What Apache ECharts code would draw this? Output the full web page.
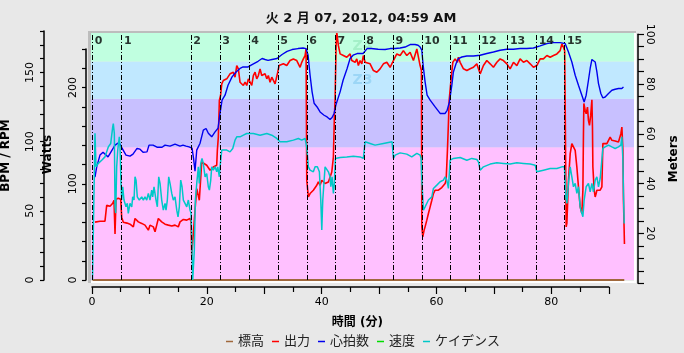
<!DOCTYPE html>
<html>
<head>
<meta charset="utf-8">
<script src="https://cdn.jsdelivr.net/npm/echarts@6/dist/echarts.min.js"></script>
<style>
  html, body { margin: 0; padding: 0; background: #e8e8e8; }
  #chart { width: 684px; height: 353px; }
</style>
</head>
<body>
<div id="chart"></div>
<script>
// ---- data (time in minutes) ----
const titleText = '火 2 月 07, 2012, 04:59 AM';
const legendNames = ['標高', '出力', '心拍数', '速度', 'ケイデンス'];

// lap start times and heart-rate zone limits (BPM)
const lapTimes = [0.05, 5.15, 17.2, 22.25, 27.3, 32.35, 37.4, 42.33, 47.33, 52.4, 57.44, 62.32, 67.37, 72.35, 77.35, 82.28];
const zoneLimits = [0, 96, 131, 158, 180];
const zoneNames = ['Z1', 'Z2', 'Z3', 'Z4'];

// 標高 (m)
const elevation = [[0.1, 0], [92.7, 0]];
// 速度 - no samples in this file
const speed = [];

// 心拍数 (BPM)
const heartRate = [[0.52,74.4],[0.82,81.8],[1.39,90.3],[1.92,92.4],[2.79,89.0],[3.31,92.6],[4.01,97.5],[4.53,98.9],[4.88,98.2],[5.23,95.3],[5.92,90.3],[6.62,89.5],[7.14,91.0],[7.84,95.1],[8.36,94.6],[8.89,92.4],[9.58,92.6],[9.93,97.5],[10.63,97.5],[11.32,96.0],[12.20,96.0],[12.72,97.5],[13.59,96.8],[14.46,98.2],[15.33,96.8],[15.85,97.5],[16.38,96.8],[16.90,96.2],[17.42,95.3],[17.68,88.1],[17.94,78.7],[18.24,93.9],[18.82,98.9],[19.39,108.3],[19.86,109.5],[20.26,106.1],[20.85,103.5],[21.43,107.1],[21.95,109.7],[22.30,120.6],[22.65,130.0],[23.17,133.6],[23.69,140.8],[24.39,146.8],[25.09,150.4],[25.78,152.9],[26.31,154.0],[27.18,154.0],[27.87,155.7],[28.92,158.1],[29.62,160.1],[30.14,159.4],[30.66,158.8],[31.36,159.4],[32.23,160.1],[33.10,163.0],[33.97,165.3],[34.84,166.6],[35.89,167.3],[36.76,167.7],[37.28,167.3],[37.63,162.5],[37.98,148.0],[38.33,136.0],[38.68,127.8],[39.20,125.1],[39.72,121.5],[40.42,119.1],[40.94,117.9],[41.46,116.0],[41.81,117.5],[42.16,120.4],[42.51,127.1],[43.21,136.0],[43.73,144.4],[44.43,152.9],[44.95,160.1],[45.47,162.5],[46.17,163.7],[47.21,163.7],[47.91,167.3],[48.61,167.3],[49.83,166.8],[51.05,166.6],[51.92,167.3],[52.79,167.3],[53.66,167.7],[54.53,168.4],[55.40,170.2],[56.27,170.2],[56.79,169.7],[57.14,168.4],[57.44,166.1],[57.67,155.2],[58.01,143.2],[58.36,133.6],[58.89,130.0],[59.76,125.1],[60.63,120.4],[60.92,119.1],[61.50,120.4],[61.85,122.7],[62.25,128.7],[62.67,140.8],[62.94,150.4],[63.41,156.5],[63.81,160.1],[64.41,161.2],[65.28,161.9],[66.43,161.9],[67.60,162.5],[68.76,163.7],[69.91,164.8],[71.08,166.1],[72.25,166.8],[73.40,166.8],[74.56,167.3],[75.73,167.3],[76.88,167.7],[78.05,169.2],[79.22,170.9],[80.37,171.6],[81.53,171.6],[82.40,170.9],[82.98,164.8],[83.57,157.6],[84.15,148.0],[84.72,140.8],[85.31,133.6],[85.71,128.7],[86.06,133.6],[86.46,144.4],[86.76,152.9],[87.06,159.4],[87.33,160.8],[87.63,157.6],[87.93,150.4],[88.21,142.0],[88.62,134.8],[88.97,131.6],[89.37,132.3],[89.95,134.8],[90.54,137.2],[91.11,137.9],[91.69,138.4],[92.28,138.4],[92.56,139.6]];

// 出力 (W)
const power = [[0.52,60.1],[1.39,61.1],[2.26,61.1],[2.56,77.7],[3.14,76.7],[3.61,79.8],[3.83,82.9],[4.01,47.7],[4.18,83.9],[4.58,85.0],[5.00,83.9],[5.17,65.3],[5.45,60.1],[6.10,59.1],[6.62,58.0],[7.20,55.2],[7.49,63.9],[7.79,63.9],[8.07,60.4],[8.66,58.8],[9.23,57.0],[9.53,55.2],[9.81,51.8],[10.10,57.0],[10.40,58.8],[10.68,55.2],[10.98,50.1],[11.27,57.0],[11.55,63.9],[11.85,62.2],[12.14,60.4],[12.72,58.0],[13.29,57.0],[13.89,56.0],[14.46,57.0],[15.03,55.2],[15.33,60.4],[15.91,62.9],[16.50,62.2],[17.07,63.9],[17.25,60.1],[17.37,24.9],[17.60,23.8],[17.94,72.5],[18.24,95.0],[18.52,93.3],[18.69,82.9],[19.11,122.6],[19.39,124.4],[19.98,119.2],[20.56,114.0],[21.13,117.4],[21.72,119.2],[21.83,134.7],[22.00,148.5],[22.18,186.5],[22.39,191.7],[22.60,203.8],[22.87,207.3],[23.17,205.5],[23.47,209.0],[23.75,207.3],[24.04,214.2],[24.34,212.4],[24.62,215.9],[24.91,210.7],[25.21,222.8],[25.49,219.4],[25.78,205.5],[26.08,203.8],[26.36,202.1],[26.66,205.5],[26.95,202.1],[27.23,209.0],[27.53,205.5],[27.82,202.1],[28.10,212.4],[28.40,215.9],[28.69,209.0],[28.97,212.4],[29.27,219.4],[29.56,212.4],[29.84,210.7],[30.14,214.2],[30.44,209.0],[30.71,212.4],[31.01,205.5],[31.31,210.7],[31.59,207.3],[31.88,203.8],[32.18,202.1],[32.35,215.9],[32.58,222.8],[32.75,224.6],[33.33,224.6],[33.92,222.8],[34.49,228.0],[35.07,229.7],[35.66,228.0],[36.24,221.0],[36.53,226.2],[36.81,229.7],[37.11,233.2],[37.28,240.1],[37.40,103.6],[37.68,86.3],[37.98,89.8],[38.28,88.1],[38.55,93.3],[38.85,95.0],[39.15,98.4],[39.42,101.9],[39.72,98.4],[40.02,103.6],[40.59,100.2],[40.89,98.4],[41.17,101.9],[41.46,103.6],[41.76,112.2],[42.04,127.8],[42.21,169.2],[42.33,186.5],[42.51,243.5],[42.63,257.3],[42.91,243.5],[43.21,234.9],[43.78,233.2],[44.37,231.4],[44.95,234.9],[45.24,228.0],[45.52,229.7],[45.82,226.2],[46.11,229.7],[46.39,222.8],[46.69,228.0],[46.99,224.6],[47.26,233.2],[47.56,226.2],[47.86,228.0],[48.43,224.6],[49.01,217.6],[49.60,215.9],[50.17,219.4],[50.75,224.6],[51.34,226.2],[51.92,221.0],[52.49,228.0],[53.08,234.9],[53.66,233.2],[54.23,238.3],[54.82,233.2],[55.40,236.6],[55.98,228.0],[56.57,240.1],[56.85,238.3],[57.14,222.8],[57.37,217.6],[57.44,55.2],[57.61,44.9],[57.84,51.8],[58.01,55.2],[58.31,62.2],[58.59,69.1],[58.89,76.0],[59.18,82.9],[59.46,89.8],[59.76,93.3],[60.05,95.0],[60.33,93.3],[60.63,95.0],[60.92,96.1],[61.20,96.7],[61.50,100.2],[61.67,103.6],[61.79,119.2],[61.90,134.7],[62.07,162.4],[62.20,186.5],[62.54,209.0],[62.84,226.2],[63.24,229.7],[63.64,226.2],[63.81,231.4],[64.11,226.2],[64.69,219.4],[65.28,217.6],[65.85,219.4],[66.43,221.0],[67.02,224.6],[67.30,219.4],[67.60,214.2],[68.17,222.8],[68.76,228.0],[69.34,224.6],[69.91,221.0],[70.51,226.2],[71.08,229.7],[71.65,228.0],[72.25,224.6],[72.82,219.4],[73.40,226.2],[73.99,222.8],[74.56,229.7],[75.14,226.2],[75.73,228.0],[76.31,224.6],[76.88,221.0],[77.47,222.8],[78.05,229.7],[78.62,229.7],[79.22,233.2],[79.79,231.4],[80.37,233.2],[80.96,234.9],[81.53,238.3],[81.83,245.3],[82.11,241.8],[82.32,238.3],[82.40,186.5],[82.58,55.2],[82.70,58.8],[82.98,103.6],[83.28,131.3],[83.57,141.7],[83.85,143.3],[84.15,134.7],[84.44,117.4],[84.72,96.7],[85.02,76.0],[85.31,69.1],[85.49,93.3],[85.59,152.0],[85.66,183.4],[85.89,176.2],[86.06,172.7],[86.29,179.6],[86.46,165.8],[86.64,160.6],[86.85,171.0],[87.06,187.3],[87.16,158.9],[87.23,117.4],[87.46,93.3],[87.63,86.3],[87.80,89.8],[87.93,93.3],[88.21,95.0],[88.50,93.3],[88.80,96.7],[88.97,141.7],[89.08,143.3],[89.67,141.7],[90.24,148.5],[90.54,145.1],[91.11,144.4],[91.69,143.3],[92.11,152.0],[92.28,158.9],[92.46,134.7],[92.56,82.9],[92.73,37.3]];

// ケイデンス (RPM)
const cadence = [[0.09,0],[0.35,0],[0.52,106.1],[0.70,81.8],[1.10,84.3],[1.69,86.6],[2.26,89.0],[2.84,96.2],[3.26,98.7],[3.43,99.9],[3.61,110.7],[3.71,113.1],[3.89,105.9],[4.01,52.9],[4.13,48.4],[4.30,81.8],[4.48,93.9],[4.76,103.5],[4.88,96.2],[5.05,69.8],[5.17,57.8],[5.35,67.4],[5.57,57.8],[5.92,52.9],[6.15,55.4],[6.32,48.2],[6.62,55.4],[6.92,52.9],[7.09,60.1],[7.32,57.8],[7.49,74.6],[7.67,72.2],[7.89,60.1],[8.24,57.8],[8.66,60.1],[8.94,57.8],[9.23,60.1],[9.53,57.8],[9.81,62.6],[10.10,57.8],[10.40,65.0],[10.57,60.1],[10.80,67.4],[11.15,57.8],[11.38,52.9],[11.62,74.6],[11.85,69.8],[12.14,57.8],[12.42,50.5],[12.72,55.4],[12.89,50.5],[13.12,57.8],[13.36,74.6],[13.59,69.8],[13.89,62.6],[14.16,57.8],[14.46,60.1],[14.76,50.5],[14.98,45.7],[15.21,52.9],[15.45,72.2],[15.68,67.4],[15.91,57.8],[16.20,55.4],[16.50,52.9],[16.78,57.8],[17.07,50.5],[17.25,48.2],[17.54,0],[17.68,0],[17.82,21.7],[18.00,57.8],[18.24,69.8],[18.52,81.8],[18.69,69.8],[18.94,84.3],[19.16,87.9],[19.39,84.3],[19.69,74.6],[19.98,77.0],[20.26,67.4],[20.44,65.0],[20.68,72.2],[20.85,81.8],[21.13,79.4],[21.43,81.8],[21.72,78.2],[21.90,81.8],[22.18,74.6],[22.30,81.8],[22.60,93.9],[22.87,92.6],[23.47,93.9],[24.04,92.6],[24.51,95.1],[24.91,101.1],[25.21,103.5],[25.78,103.5],[26.36,104.7],[26.95,105.9],[28.10,105.9],[29.27,104.7],[30.44,105.9],[31.31,104.7],[32.18,102.3],[32.75,99.9],[33.92,99.9],[35.07,101.1],[35.94,102.3],[36.53,101.1],[37.11,102.3],[37.40,96.2],[37.68,81.8],[37.98,79.4],[38.55,78.2],[38.85,81.8],[39.25,81.8],[39.60,78.2],[39.84,57.8],[40.02,36.1],[40.19,57.8],[40.59,81.8],[40.89,83.0],[41.17,78.2],[41.46,74.6],[41.59,67.4],[41.81,74.6],[42.04,62.6],[42.21,69.8],[42.39,87.9],[42.63,89.0],[43.21,88.6],[44.37,89.0],[45.52,89.5],[46.69,89.0],[47.26,87.9],[47.56,99.9],[48.43,98.7],[49.30,97.5],[50.75,98.7],[52.26,99.9],[52.49,87.9],[52.79,90.3],[53.66,91.9],[54.82,91.0],[55.69,89.0],[56.57,91.5],[57.14,90.3],[57.32,87.9],[57.44,72.2],[57.72,50.5],[58.01,52.9],[58.59,57.8],[59.18,60.1],[59.46,66.2],[60.05,68.6],[60.63,71.0],[61.20,72.2],[61.50,74.6],[61.79,72.2],[62.07,66.2],[62.37,86.6],[62.94,87.9],[64.11,88.6],[65.28,86.6],[66.15,87.9],[67.02,87.1],[67.30,85.4],[67.60,79.4],[68.17,81.8],[69.34,83.8],[70.51,84.7],[71.65,84.3],[72.82,83.8],[73.99,84.7],[75.14,84.3],[76.31,83.8],[77.18,83.0],[77.47,78.2],[78.62,79.4],[79.79,80.6],[80.96,80.6],[81.83,81.8],[82.28,81.8],[82.53,60.1],[82.70,55.4],[82.98,69.8],[83.28,81.8],[83.57,74.6],[83.85,67.4],[84.15,69.8],[84.44,62.6],[84.72,67.4],[85.02,52.9],[85.14,50.5],[85.49,45.7],[85.71,57.8],[86.06,67.4],[86.46,69.8],[86.76,63.8],[87.06,69.8],[87.33,63.8],[87.63,72.2],[87.93,74.6],[88.21,67.4],[88.50,73.4],[88.80,74.6],[88.97,95.1],[89.37,96.2],[89.95,97.5],[90.54,96.2],[91.11,95.1],[91.69,96.2],[92.11,97.5],[92.28,103.5],[92.46,86.6],[92.56,62.6],[92.68,40.9]];

// ---- layout ----
const FONT = '"DejaVu Sans", "Noto Sans CJK JP", sans-serif';
const GL = 91, GR = 50, GT = 31, GB = 73;      // plot area
const PLOT_W = 684 - GL - GR, PLOT_H = 353 - GT - GB;
const MIN_PX = 5.742;                            // px per minute
const WATT_PX = 0.9625;                          // px per watt
const LAP_LABEL_BPM = 173;

const zoneColors = ['#ffc0ff', '#c8c0ff', '#c0e8ff', '#c0ffe0'];
const zoneTextColors = [null, null, '#9cd6f6', '#a4f0c8'];

const axisLineStyle = { show: true, onZero: false, lineStyle: { color: '#000', width: 1.5 } };
const tickStyle = { color: '#000', width: 1.2 };
const labelStyle = { color: '#000', fontSize: 11, fontFamily: FONT };
const nameStyle = { color: '#000', fontSize: 12, fontWeight: 'bold', fontFamily: FONT };

function lineSeries(name, data, color, yIdx, width) {
  return {
    name: name, type: 'line', data: data, xAxisIndex: 0, yAxisIndex: yIdx,
    showSymbol: false, symbol: 'none', z: 3,
    itemStyle: { color: color },
    lineStyle: { color: color, width: width }
  };
}

const chart = echarts.init(document.getElementById('chart'), null, { renderer: 'canvas' });

const option = {
  backgroundColor: '#e8e8e8',
  animation: false,
  title: {
    text: titleText, left: 356, top: 7, textAlign: 'center',
    textStyle: { fontSize: 13, fontWeight: 'bold', color: '#111', fontFamily: FONT }
  },
  legend: {
    data: legendNames, left: 221, top: 330, icon: 'rect',
    itemWidth: 7, itemHeight: 1.5, itemGap: 8,
    textStyle: { fontSize: 13, color: '#222', fontFamily: FONT }
  },
  grid: [
    { left: GL, right: GR, top: GT, bottom: GB, outerBoundsMode: 'none' },
    { left: 86, width: 1, top: 280 - 240 * WATT_PX, bottom: GB, outerBoundsMode: 'none' },
    { left: 92, width: 90 * MIN_PX, top: 286, height: 1, outerBoundsMode: 'none' },
    { left: 637, width: 1, top: 34.3, bottom: 353 - 283.2, outerBoundsMode: 'none' }
  ],
  xAxis: [
    { gridIndex: 0, type: 'value', min: -1 / MIN_PX, max: -1 / MIN_PX + PLOT_W / MIN_PX, show: false },
    { gridIndex: 1, type: 'value', min: 0, max: 1, show: false },
    {
      gridIndex: 2, type: 'value', min: 0, max: 90, interval: 10,
      axisLine: axisLineStyle,
      axisTick: { show: true, length: 7, lineStyle: tickStyle },
      minorTick: { show: true, splitNumber: 2, length: 5, lineStyle: tickStyle },
      splitLine: { show: false }, minorSplitLine: { show: false },
      axisLabel: Object.assign({ margin: 10, formatter: v => (v % 20 === 0 ? String(v) : '') }, labelStyle),
      name: '時間 (分)', nameLocation: 'middle', nameGap: 30,
      nameTextStyle: Object.assign({ padding: [0, 0, 0, 14] }, nameStyle)
    },
    { gridIndex: 3, type: 'value', min: 0, max: 1, show: false }
  ],
  yAxis: [
    {
      gridIndex: 0, type: 'value', position: 'left', offset: GL - 44,
      min: 0, max: 180, interval: 10,
      axisLine: axisLineStyle,
      axisTick: { show: true, length: 4, lineStyle: tickStyle },
      splitLine: { show: false },
      axisLabel: Object.assign({ rotate: 90, margin: 8, formatter: v => (v % 50 === 0 ? String(v) : '') }, labelStyle),
      name: 'BPM / RPM', nameLocation: 'middle', nameGap: 32, nameTextStyle: nameStyle
    },
    { gridIndex: 0, type: 'value', min: 0, max: PLOT_H / WATT_PX, show: false },
    { gridIndex: 0, type: 'value', min: 0, max: 100, show: false },
    {
      gridIndex: 1, type: 'value', position: 'left', min: 0, max: 240, interval: 20,
      axisLine: axisLineStyle,
      axisTick: { show: true, length: 4, lineStyle: tickStyle },
      splitLine: { show: false },
      axisLabel: Object.assign({ rotate: 90, margin: 7, formatter: v => (v % 100 === 0 ? String(v) : '') }, labelStyle),
      name: 'Watts', nameLocation: 'middle', nameGap: 32,
      nameTextStyle: Object.assign({ padding: [0, 0, 0, 20] }, nameStyle)
    },
    { gridIndex: 2, type: 'value', min: 0, max: 1, show: false },
    {
      gridIndex: 3, type: 'value', position: 'right', min: 0, max: 100, interval: 5,
      axisLine: axisLineStyle,
      axisTick: { show: true, length: 6, lineStyle: tickStyle },
      splitLine: { show: false },
      axisLabel: Object.assign({ rotate: -90, margin: 6, formatter: v => (v % 20 === 0 && v > 0 ? String(v) : '') }, labelStyle),
      name: 'Meters', nameLocation: 'middle', nameGap: 30, nameTextStyle: nameStyle
    }
  ],
  series: [
    {
      // heart rate zones + lap markers
      name: 'zones', type: 'line', data: [], xAxisIndex: 0, yAxisIndex: 0, z: 1,
      markArea: {
        silent: true,
        label: { show: false },
        data: zoneNames.map((z, i) => [
          {
            name: z, yAxis: zoneLimits[i],
            itemStyle: { color: zoneColors[i], opacity: 1, borderWidth: 0 },
            label: zoneTextColors[i]
              ? { show: true, position: 'inside', color: zoneTextColors[i], fontSize: 14, fontWeight: 'bold', fontFamily: FONT }
              : { show: false }
          },
          { yAxis: zoneLimits[i + 1] }
        ])
      },
      markLine: {
        silent: true, symbol: ['none', 'none'], label: { show: false },
        lineStyle: { color: '#000', width: 1, type: [5, 2, 1, 2] },
        emphasis: { disabled: true },
        data: lapTimes.map(t => ({ xAxis: t }))
      }
    },
    lineSeries('標高', elevation, '#a0683c', 2, 2),
    lineSeries('出力', power, '#ff0000', 1, 1.6),
    lineSeries('心拍数', heartRate, '#0000ee', 0, 1.4),
    lineSeries('速度', speed, '#00dd00', 0, 1.4),
    lineSeries('ケイデンス', cadence, '#00c8c8', 0, 1.5),
    {
      name: 'laps', type: 'scatter', xAxisIndex: 0, yAxisIndex: 0, z: 5,
      symbolSize: 1, itemStyle: { color: 'rgba(0,0,0,0)' },
      data: lapTimes.map(t => [t, LAP_LABEL_BPM]),
      label: {
        show: true, position: 'right', distance: 2,
        formatter: p => String(p.dataIndex),
        color: '#000', fontSize: 11, fontWeight: 'bold', fontFamily: FONT
      }
    }
  ],
  graphic: [
    // inset frame round the plot
    { type: 'rect', z: 100, shape: { x: GL - 3, y: GT, width: PLOT_W + 5, height: 2 }, style: { fill: '#bdbdbd' } },
    { type: 'rect', z: 100, shape: { x: GL - 3, y: GT, width: 3, height: PLOT_H + 3 }, style: { fill: '#bdbdbd' } },
    { type: 'rect', z: 100, shape: { x: GL + PLOT_W, y: GT + 2, width: 2, height: PLOT_H + 1 }, style: { fill: '#ffffff' } },
    { type: 'rect', z: 100, shape: { x: GL, y: GT + PLOT_H + 1, width: PLOT_W + 2, height: 2 }, style: { fill: '#ffffff' } }
  ]
};

chart.setOption(option);
</script>
</body>
</html>
